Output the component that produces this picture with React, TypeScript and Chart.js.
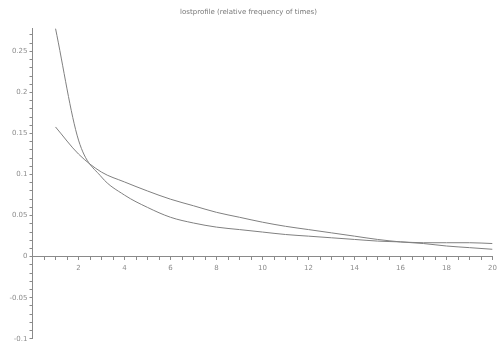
import React, { useEffect, useRef } from "react";
import { Chart, registerables } from "chart.js";

Chart.register(...registerables);

const TITLE = "lostprofile (relative frequency of times)";
const xValues = [1, 2, 3, 4, 5, 6, 7, 8, 9, 10, 11, 12, 13, 14, 15, 16, 17, 18, 19, 20];
const smoothSeries = [0.158, 0.125, 0.103, 0.091, 0.08, 0.07, 0.062, 0.054, 0.048, 0.042, 0.037, 0.033, 0.029, 0.025, 0.021, 0.018, 0.016, 0.013, 0.011, 0.009];
const steepSeries = [0.278, 0.142, 0.097, 0.075, 0.06, 0.048, 0.041, 0.036, 0.033, 0.03, 0.027, 0.025, 0.023, 0.021, 0.019, 0.018, 0.017, 0.017, 0.017, 0.016];
const xMin = 0;
const xMax = 20;
const yMin = -0.1;
const yMax = 0.278;

export default function App() {
  const ref = useRef<HTMLCanvasElement | null>(null);
  useEffect(() => {
    if (!ref.current) return;
    const grey = "#8a8a8a";
    const chart = new Chart(ref.current, {
      type: "line",
      data: {
        datasets: [
          {
            data: xValues.map((x, i) => ({ x, y: steepSeries[i] })),
            borderColor: "#808080",
            borderWidth: 1,
            pointRadius: 0,
            cubicInterpolationMode: "monotone",
          },
          {
            data: xValues.map((x, i) => ({ x, y: smoothSeries[i] })),
            borderColor: "#808080",
            borderWidth: 1,
            pointRadius: 0,
            cubicInterpolationMode: "monotone",
          },
        ],
      },
      options: {
        responsive: false,
        animation: false,
        layout: { padding: { top: 0, right: 4, bottom: 6, left: 0 } },
        plugins: {
          legend: { display: false },
          tooltip: { enabled: false },
          title: {
            display: true,
            text: TITLE,
            color: "#777",
            font: { family: "DejaVu Sans", size: 7, weight: "normal" },
            padding: { top: 8, bottom: 12 },
          },
        },
        scales: {
          x: {
            type: "linear",
            position: { y: 0 },
            min: xMin,
            max: xMax,
            grid: { drawOnChartArea: false, color: grey, tickLength: 3, tickColor: grey },
            border: { color: grey, width: 1 },
            ticks: {
              stepSize: 0.5,
              autoSkip: false,
              maxRotation: 0,
              includeBounds: false,
              color: "#8c8c8c",
              font: { family: "DejaVu Sans", size: 7 },
              padding: 4,
              callback: (v: any) => {
                const n = Number(v);
                return Math.abs(n - Math.round(n)) < 1e-6 && Math.round(n) % 2 === 0 && Math.round(n) !== 0 ? String(Math.round(n)) : "";
              },
            },
          },
          y: {
            type: "linear",
            position: "left",
            min: yMin,
            max: yMax,
            afterFit: (scale: any) => {
              scale.width = 32.5;
            },
            grid: { drawOnChartArea: false, color: grey, tickLength: 3, tickColor: grey },
            border: { color: grey, width: 1 },
            ticks: {
              stepSize: 0.01,
              autoSkip: false,
              includeBounds: false,
              color: "#8c8c8c",
              font: { family: "DejaVu Sans", size: 7 },
              padding: 2,
              callback: (v: any) => {
                const n = Math.round(Number(v) * 100);
                if (n % 5 !== 0) return "";
                const val = n / 100;
                return val === 0 ? "0" : String(val);
              },
            },
          },
        },
      },
    });
    return () => chart.destroy();
  }, []);
  return (
    <div style={{ position: "fixed", left: 0, top: 0, width: 501, height: 345, background: "#fff" }}>
      <canvas ref={ref} width={501} height={345} style={{ display: "block" }} />
    </div>
  );
}
